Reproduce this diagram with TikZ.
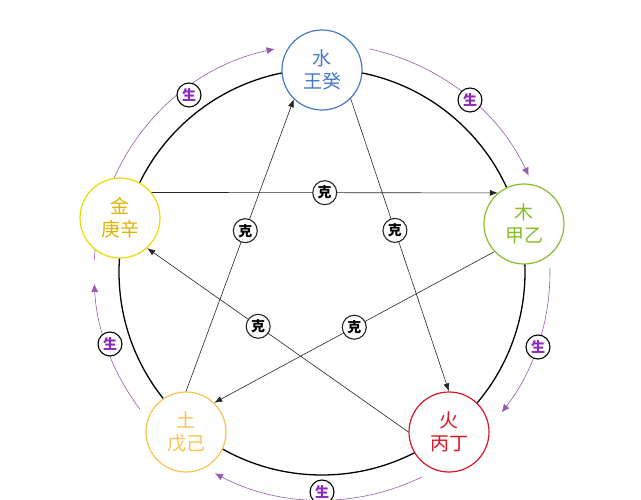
\documentclass[tikz,border=0pt]{standalone}
\usepackage{fontspec}
\newfontfamily\cjk{Noto Sans CJK SC}
\usetikzlibrary{arrows.meta,calc}
\definecolor{cw}{RGB}{70,120,200}
\definecolor{cm}{RGB}{135,190,40}
\definecolor{ch}{RGB}{220,20,35}
\definecolor{ct}{RGB}{250,195,80}
\definecolor{cj}{RGB}{240,215,0}
\definecolor{cjt}{RGB}{225,180,0}
\definecolor{pu}{RGB}{150,90,170}
\definecolor{pt}{RGB}{140,40,190}
\begin{document}
\begin{tikzpicture}[x=1pt,y=-1pt,font=\cjk,
  elem/.style={circle,draw,line width=1.2pt,fill=white,minimum size=80pt,inner sep=0pt,align=center,font=\cjk\fontsize{19}{23}\selectfont},
  ke/.style={draw=black!85,line width=0.6pt,-{Latex[length=8pt,width=6pt]}},
  kel/.style={circle,draw,line width=1.1pt,fill=white,minimum size=24pt,inner sep=0pt,font=\cjk\bfseries\fontsize{14}{15}\selectfont},
  sh/.style={draw=pu,line width=0.6pt,-{Latex[length=8pt,width=7pt]},fill=none},
  shl/.style={circle,draw,line width=1.1pt,fill=white,minimum size=24pt,inner sep=0pt,text=pt,font=\cjk\bfseries\fontsize{14}{15}\selectfont}]
\useasboundingbox (0,0) rectangle (641,500);
\coordinate (c) at (322,272);
\draw[line width=1.3pt] (c) circle[radius=203];
\foreach \a/\b in {78/25,1/-38,-64/-118,-143/-177,177/102}{
  \draw[sh] ($(c)+({cos(\a)*228},{-sin(\a)*228})$) arc[start angle=-\a,end angle=-\b,radius=228];
}
\node[shl] (s1) at (470,100) {生};
\node[shl] (s2) at (538,347) {生};
\node[shl] (s3) at (322,492) {生};
\node[shl] (s4) at (110,344) {生};
\node[shl] (s5) at (189,95) {生};
\node[elem,draw=cw,text=cw] (water) at (322,70) {水\\王癸};
\node[elem,draw=cm,text=cm] (wood) at (524,224) {木\\甲乙};
\node[elem,draw=ch,text=ch] (fire) at (449,432) {火\\丙丁};
\node[elem,draw=ct,text=ct] (earth) at (186,432) {土\\戊己};
\node[elem,draw=cj,text=cjt] (metal) at (120,218) {金\\庚辛};
\draw[ke] (water.-45) -- node[kel,pos=0.45] (k1) {克} (fire.90);
\draw[ke] (fire.180) -- node[kel,pos=0.575] (k2) {克} (metal.-48);
\draw[ke] (metal.39) -- node[kel,pos=0.5] (k3) {克} (wood.130);
\draw[ke] (wood.-137) -- node[kel,pos=0.5] (k4) {克} (earth.46);
\draw[ke] (earth.90) -- node[kel,pos=0.55] (k5) {克} (water.-134);
\end{tikzpicture}
\end{document}
